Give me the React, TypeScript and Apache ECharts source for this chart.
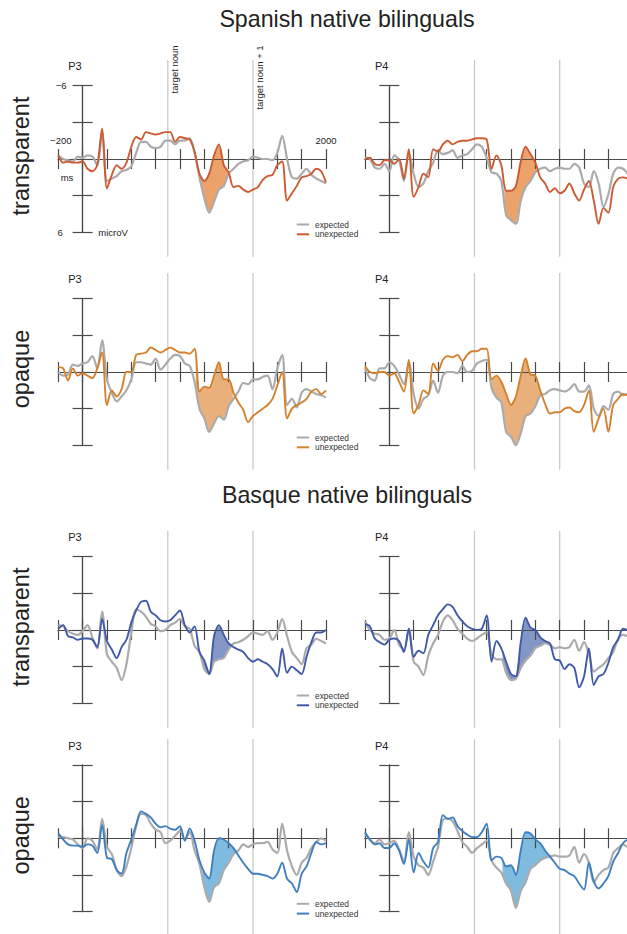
import React, { useEffect, useRef } from 'react';
import * as echarts from 'echarts';

// ---------- data ----------
const TIMES = [-200, -160, -120, -80, -40, 0, 40, 80, 120, 160, 200, 240, 280, 320, 360, 400, 440, 480, 520, 560, 600, 640, 680, 720, 760, 800, 840, 880, 920, 960, 1000, 1040, 1080, 1120, 1160, 1200, 1240, 1280, 1320, 1360, 1400, 1440, 1480, 1520, 1560, 1600, 1640, 1680, 1720, 1760, 1800, 1840, 1880, 1920, 1960, 2000];

// Spanish native bilinguals, transparent
const ST_P3_EXP = [-0.3, 0, 0.1, 0.2, -0.2, -0.1, -0.3, -0.2, 0.5, -2.2, 1.8, 1.6, 1.4, 1.0, 0.9, 0.6, -0.5, -1.4, -1.4, -1.0, -0.9, -1.0, -1.5, -1.5, -1.2, -1.5, -1.5, -1.7, -0.5, 1.5, 3.2, 4.4, 3.5, 2.5, 2.2, 1.2, 0.8, 0.4, 0.2, 0.1, -0.2, -0.1, 0, 0, 0.1, -0.5, -1.9, 0, 1.5, 1.6, 1.2, 0.8, 1.3, 1.6, 1.8, 2.0];
const ST_P3_UNEXP = [-0.3, 0.3, 0.2, 0.3, 0.3, 0.2, 0.8, 1.0, 0.5, -2.5, 2.4, 1.3, 0.5, 0.8, 0.3, -1.0, -1.8, -1.6, -2.2, -2.1, -2.0, -2.1, -2.2, -2.2, -1.4, -1.8, -1.7, -1.6, -0.6, 1.2, 1.8, 1.2, -0.3, -1.2, 0.5, 1.1, 2.3, 2.2, 2.5, 2.7, 2.5, 2.3, 1.7, 1.4, 1.3, 0.5, 0.2, 3.4, 2.8, 2.2, 1.5, 1.4, 1.2, 0.8, 1.0, 1.9];
const ST_P4_EXP = [-0.1, 0, 0.7, 0.8, 0.4, 1.0, -0.3, 0.1, 1.8, -0.5, 1.2, 2.3, 2.0, 1.0, 0.3, -0.7, -0.4, -0.5, -0.7, -0.1, -0.3, -0.4, -0.8, -1.2, -1.0, -0.1, 1.1, 1.2, 1.8, 4.6, 5.0, 5.3, 3.4, 2.3, 1.8, 1.1, 0.8, 0.7, 1.0, 0.8, 0.7, 0.8, 0.8, 0.4, 0.7, 2.0, 2.3, 1.0, 2.0, 3.9, 2.9, 1.2, 0.7, 0.8, 1.2, 1.5];
const ST_P4_UNEXP = [0, -0.1, 0.4, 0.5, 0.1, 0.1, 0.4, 0, 1.6, -0.8, 3.1, 2.3, 1.2, 1.5, -0.8, -0.6, -1.2, -1.5, -1.2, -1.4, -1.5, -1.5, -1.6, -1.7, -1.7, -1.6, 0.8, -0.3, 0.5, 2.6, 2.6, 2.2, 0.2, -1.0, -0.4, 0.3, 1.5, 2.0, 2.7, 2.4, 2.8, 2.6, 2.0, 2.8, 3.4, 2.5, 1.8, 3.4, 5.3, 4.0, 4.4, 2.3, 1.6, 1.5, 1.6, 1.8];

// Spanish native bilinguals, opaque
const SO_P3_EXP = [0, 0.3, 0.2, -0.6, -0.5, -0.7, -0.8, -1.3, -0.3, -2.6, 0.6, 1.7, 2.4, 2.0, 1.5, 0.6, -0.8, -0.8, -0.7, -0.6, -1.1, -0.2, -0.6, -1.1, -1.4, -1.3, -0.7, -0.5, 0.8, 3.0, 3.8, 4.9, 4.2, 3.6, 3.9, 2.8, 2.2, 1.6, 0.9, 1.0, 0.6, 0.6, 0.4, 0.3, 1.4, -0.3, -1.4, 2.7, 2.2, 2.9, 1.7, 1.4, 1.6, 1.8, 1.9, 2.1];
const SO_P3_UNEXP = [-0.4, -0.3, 0.7, -0.3, 0.3, 0.1, 0.3, 0.5, -0.3, -1.6, 2.7, 1.5, 2.0, 1.4, 0, 0, -1.4, -1.5, -1.6, -2.0, -1.8, -1.6, -1.8, -2.0, -1.8, -1.6, -1.6, -1.5, -1.9, 1.6, 1.2, 1.3, 0.3, -0.8, 0.6, 0.6, 1.7, 2.5, 3.1, 4.1, 3.6, 3.3, 3.0, 2.7, 2.2, 1.1, 0, 3.8, 3.0, 2.7, 2.5, 2.2, 1.6, 1.4, 1.8, 1.5];
const SO_P4_EXP = [-0.3, 0.5, 0.7, -0.3, -0.3, -0.8, -0.5, 0.2, 1.0, -0.8, 1.8, 3.0, 2.2, 1.9, 0.7, 1.7, 0.3, 0, 0, 0.1, -0.5, 0, -0.1, -0.7, -0.9, -1.0, 1.3, 2.1, 2.5, 4.9, 5.3, 6.0, 5.0, 3.6, 3.4, 2.8, 1.9, 1.8, 1.5, 1.4, 1.5, 1.6, 1.4, 1.0, 1.6, 1.6, 1.1, 3.0, 3.6, 2.8, 3.1, 1.8, 1.6, 1.9, 1.8, 1.9];
const SO_P4_UNEXP = [-0.5, 0, 0.1, 0, 0, 0.3, 0.1, 0.8, 1.6, -1.0, 3.4, 2.7, 1.5, 1.8, -0.7, -0.1, -1.0, -1.3, -1.2, -1.4, -0.9, -1.4, -1.7, -1.7, -1.9, -1.9, 0.6, 0.3, 0.8, 1.8, 2.7, 2.0, 0.3, -1.1, 0.2, 0.3, 1.5, 2.6, 3.4, 3.3, 3.3, 3.0, 2.9, 3.2, 3.3, 2.7, 1.5, 4.9, 3.8, 3.0, 4.9, 2.7, 2.2, 1.8, 1.9, 1.8];

// Basque native bilinguals, transparent
const BT_P3_EXP = [-0.4, -0.3, 0.1, 0.3, 0.4, 0.1, -0.4, 0.6, 1.5, -1.5, 2.0, 2.6, 3.1, 4.1, 2.8, 0.2, -1.7, -1.5, -1.1, -0.5, -0.3, 0.1, 0, -0.4, -0.6, -0.9, -0.3, -0.1, 1.3, 1.8, 3.2, 3.6, 2.6, 2.4, 2.3, 1.6, 1.1, 1.0, 0.8, 0.5, 0.2, 0.3, 0.4, 0.1, 0.8, 0.2, -0.9, 0.5, 1.8, 2.3, 2.8, 1.5, 1.2, 0.7, 0.9, 1.1];
const BT_P3_UNEXP = [-0.1, -0.4, 0.5, 0.6, 0.8, 0.7, 0.7, 0.8, 1.4, -0.9, 0.9, 1.6, 2.3, 1.4, 0.8, -0.6, -1.6, -2.3, -2.4, -1.5, -1.2, -0.8, -0.7, -0.8, -1.2, -1.6, -0.4, 0.2, -0.3, 1.8, 2.5, 3.6, 0.5, -0.4, 0.4, 1.1, 1.4, 1.6, 1.8, 2.3, 2.6, 2.4, 2.6, 2.8, 3.2, 3.8, 1.5, 3.5, 3.0, 3.3, 3.6, 2.2, 1.0, 0.2, 0.2, 0];
const BT_P4_EXP = [-0.7, 0, 0.3, 0.4, 0.8, 0.7, 0, 1.2, 1.6, -0.1, 2.6, 3.0, 3.7, 2.1, 1.1, 0.4, -0.7, -1.2, -0.8, -0.1, 0.3, 0.7, 0.9, 0.7, 0.4, 0.2, 2.0, 2.4, 2.4, 3.5, 4.1, 4.0, 3.1, 2.5, 2.1, 1.5, 1.3, 1.1, 1.2, 1.5, 1.4, 1.5, 1.4, 0.8, 1.7, 1.0, 2.0, 3.4, 3.1, 2.8, 2.3, 1.8, 0.7, 0.4, 0.5, 0.6];
const BT_P4_UNEXP = [-0.5, -0.3, 0.7, 1.0, 1.2, 0.8, 0.7, 0.9, 1.8, -0.1, 2.2, 1.7, 1.9, 0.4, -0.4, -1.2, -1.7, -2.1, -1.9, -1.2, -0.7, -0.3, -0.1, 0, -0.1, -1.2, 2.6, 0.9, 1.5, 2.6, 3.6, 3.8, 1.0, -1.0, -0.2, 0, 0.6, 0.9, 1.1, 2.4, 2.5, 3.2, 2.8, 3.1, 4.7, 3.8, 1.5, 4.5, 3.8, 3.6, 2.7, 1.4, 0.8, -0.1, 0, 0.1];

// Basque native bilinguals, opaque
const BO_P3_EXP = [-0.1, -0.1, 0, 0.1, 0.5, 0.8, 0, 0.2, 0.9, -1.6, 0.7, 1.3, 2.6, 3.1, 2.3, 0.8, -1.0, -2.0, -1.9, -1.2, -0.7, -0.5, 0.4, 0.2, -0.2, -0.6, 0.1, -0.5, 1.0, 2.1, 4.0, 5.2, 4.0, 3.7, 2.6, 2.0, 1.3, 1.0, 0.5, 0.7, 0.5, 0.4, 0.4, 0.3, 0.9, 1.2, -1.2, 1.0, 2.3, 3.0, 2.0, 1.6, 0.8, 0.3, 0, 0.2];
const BO_P3_UNEXP = [-0.4, 0.1, 0.5, 0.6, 0.6, 0.7, 0.5, 0.6, 1.2, -1.1, 1.6, 1.7, 2.6, 2.9, 1.2, 0.1, -1.1, -2.2, -2.0, -1.7, -1.2, -0.9, -1.0, -0.8, -0.7, -1.0, 0.2, -0.8, 0.2, 1.8, 2.8, 3.3, 1.0, 0, 0.1, 0.4, 0.8, 1.4, 2.0, 2.5, 2.9, 2.9, 3.0, 3.1, 3.3, 2.9, 2.0, 3.3, 3.7, 4.4, 2.9, 2.3, 1.2, 0.3, 0.5, 0.4];
const BO_P4_EXP = [-0.4, 0.1, 0.4, 0.1, 0.5, 0.4, 0.2, 0.9, 1.9, -0.5, 1.5, 2.2, 2.4, 3.0, 1.9, 0.7, -1.5, -1.6, -1.4, -0.6, 0.3, 0.7, 1.2, 0.8, 0.5, 0.2, 1.8, 2.4, 2.8, 3.7, 4.3, 5.7, 4.3, 3.6, 2.5, 2.2, 1.8, 1.6, 1.5, 1.4, 1.5, 1.5, 1.4, 0.7, 2.0, 1.3, 2.0, 3.6, 3.0, 2.6, 2.4, 1.2, 0.8, 0.5, 0.7, 0.7];
const BO_P4_UNEXP = [-0.5, 0.1, 0.5, 0.4, 0.8, 0.8, 0.4, 1.0, 2.1, 0.1, 2.8, 1.2, 1.9, 2.4, 0.8, 0.3, -1.9, -1.6, -1.7, -1.0, -0.6, -0.3, -0.1, -0.1, -0.5, -1.2, 1.8, 1.5, 1.6, 2.3, 2.2, 3.0, 1.0, -0.5, -0.4, 0.1, 0.4, 1.0, 1.5, 2.0, 2.5, 2.6, 2.9, 3.1, 3.7, 4.2, 2.0, 3.5, 4.1, 3.7, 3.1, 1.9, 1.2, 0.4, 0.1, 0];

// shaded time windows (ms)
const WIN_ST_P3 = [920, 1205];
const WIN_ST_P4 = [945, 1205];
const WIN_SO_P3 = [930, 1235];
const WIN_SO_P4 = [840, 1260];
const WIN_BT_P3 = [990, 1225];
const WIN_BT_P4 = [930, 1330];
const WIN_BO_P3 = [985, 1265];
const WIN_BO_P4 = [930, 1320];

const GUIDE_TIMES = [700, 1400];
const GUIDE_LABELS = ['target noun', 'target noun + 1'];
const GROUP_TITLES = ['Spanish native bilinguals', 'Basque native bilinguals'];
const CONDITIONS = ['transparent', 'opaque', 'transparent', 'opaque'];
const ELECTRODES = ['P3', 'P4'];
const LEGEND_NAMES = ['expected', 'unexpected'];
const AXIS_NAMES = ['ms', 'microV'];
const X_RANGE = [-200, 2000];
const Y_RANGE = [-6, 6];
const X_STEP = 200;
const Y_STEP = 3;

// ---------- styles / layout ----------
const FONT_FAMILY = '"Liberation Sans", Arial, Helvetica, sans-serif';
const font = (s: number) => `${s}px ${FONT_FAMILY}`;
const GRAY = '#ababab';
const AXIS_COLOR = '#4a4a4a';
const GUIDE_COLOR = '#cacaca';
const TEXT_COLOR = '#222222';
const ROW_COLORS = [
  { line: '#cc5a32', fill: '#eda26c' },
  { line: '#d4812e', fill: '#e9b07c' },
  { line: '#4059a8', fill: '#8397c6' },
  { line: '#3e7fc1', fill: '#7fbbdf' },
];

const W = 627;
const H = 934;
const COL_LEFT = [58.3, 365];
const GRID_W = 267.7;
const ROW_TOP = [85.7, 298.7, 556.7, 765];
const GRID_H = 146.6;
const pxPerMs = GRID_W / (X_RANGE[1] - X_RANGE[0]);
const zeroX = (col: number) => COL_LEFT[col] + (0 - X_RANGE[0]) * pxPerMs;
const zeroY = (row: number) => ROW_TOP[row] + GRID_H / 2;

const PANELS = [
  { row: 0, col: 0, exp: ST_P3_EXP, unexp: ST_P3_UNEXP, win: WIN_ST_P3 },
  { row: 0, col: 1, exp: ST_P4_EXP, unexp: ST_P4_UNEXP, win: WIN_ST_P4 },
  { row: 1, col: 0, exp: SO_P3_EXP, unexp: SO_P3_UNEXP, win: WIN_SO_P3 },
  { row: 1, col: 1, exp: SO_P4_EXP, unexp: SO_P4_UNEXP, win: WIN_SO_P4 },
  { row: 2, col: 0, exp: BT_P3_EXP, unexp: BT_P3_UNEXP, win: WIN_BT_P3 },
  { row: 2, col: 1, exp: BT_P4_EXP, unexp: BT_P4_UNEXP, win: WIN_BT_P4 },
  { row: 3, col: 0, exp: BO_P3_EXP, unexp: BO_P3_UNEXP, win: WIN_BO_P3 },
  { row: 3, col: 1, exp: BO_P4_EXP, unexp: BO_P4_UNEXP, win: WIN_BO_P4 },
];

const fmtNum = (v: number) => (v < 0 ? '\u2212' + Math.abs(v) : String(v));

function interp(vs: number[], t: number) {
  for (let k = 0; k < TIMES.length - 1; k++) {
    if (t >= TIMES[k] && t <= TIMES[k + 1]) {
      const f = (t - TIMES[k]) / (TIMES[k + 1] - TIMES[k]);
      return vs[k] + f * (vs[k + 1] - vs[k]);
    }
  }
  return vs[vs.length - 1];
}

function fillPolygon(exp: number[], unexp: number[], win: number[]) {
  const inner = TIMES.filter((t) => t > win[0] && t < win[1]);
  const ts = [win[0], ...inner, win[1]];
  const top = ts.map((t) => [t, interp(exp, t)]);
  const bottom = ts.map((t) => [t, interp(unexp, t)]).reverse();
  return [...top, ...bottom];
}

function textEl(x: number, y: number, text: string, size: number, align: string, vAlign: string, rotation = 0, color = TEXT_COLOR) {
  return {
    type: 'text',
    x,
    y,
    rotation,
    silent: true,
    style: {
      text,
      font: font(size),
      fill: color,
      textAlign: align,
      textVerticalAlign: vAlign,
      align,
      verticalAlign: vAlign,
    },
  };
}

function buildOption() {
  const grids: any[] = [];
  const xAxes: any[] = [];
  const yAxes: any[] = [];
  const series: any[] = [];
  const axisLine = { onZero: true, lineStyle: { color: AXIS_COLOR, width: 1.2 } };
  const axisTick = { show: true, length: 10, inside: false, lineStyle: { color: AXIS_COLOR, width: 1.2 } };

  PANELS.forEach((p, i) => {
    const first = i === 0;
    const colors = ROW_COLORS[p.row];
    grids.push({
      left: COL_LEFT[p.col],
      top: ROW_TOP[p.row],
      width: GRID_W,
      height: GRID_H,
      containLabel: false,
      outerBoundsMode: 'none',
    });
    const xBase = {
      gridIndex: i,
      type: 'value',
      min: X_RANGE[0],
      max: X_RANGE[1],
      interval: X_STEP,
      axisLine,
      axisTick,
      axisLabel: { show: false },
      splitLine: { show: false },
      z: 2,
    };
    xAxes.push({ ...xBase, position: 'bottom' });
    xAxes.push({ ...xBase, position: 'top' });
    const yBase = {
      gridIndex: i,
      type: 'value',
      min: Y_RANGE[0],
      max: Y_RANGE[1],
      interval: Y_STEP,
      inverse: true,
      axisLine,
      axisTick,
      axisLabel: { show: false },
      splitLine: { show: false },
      z: 2,
    };
    yAxes.push({ ...yBase, position: 'left' });
    yAxes.push({ ...yBase, position: 'right' });

    const xi = i * 2;
    const yi = i * 2;

    // vertical guide lines (+ axis annotations in the first panel)
    series.push({
      type: 'custom',
      xAxisIndex: xi,
      yAxisIndex: yi,
      silent: true,
      clip: false,
      z: 0,
      data: [[0, 0]],
      renderItem: (params: any, api: any) => {
        const children: any[] = [];
        GUIDE_TIMES.forEach((t, k) => {
          const a = api.coord([t, -8.1]);
          const b = api.coord([t, 8.0]);
          children.push({
            type: 'line',
            shape: { x1: a[0], y1: a[1], x2: b[0], y2: b[1] },
            style: { stroke: GUIDE_COLOR, lineWidth: 1.3 },
          });
          if (first) {
            const c = api.coord([t, -9.3]);
            children.push(textEl(c[0] + 1.2, c[1], GUIDE_LABELS[k], 9.5, 'right', 'top', Math.PI / 2));
          }
        });
        if (first) {
          const xl = api.coord([X_RANGE[0], 0]);
          const xr = api.coord([X_RANGE[1], 0]);
          children.push(textEl(xl[0] + 2.5, xl[1] - 18.5, fmtNum(X_RANGE[0]), 9.5, 'center', 'middle'));
          children.push(textEl(xr[0], xr[1] - 18.5, fmtNum(X_RANGE[1]), 9.5, 'center', 'middle'));
          const yt = api.coord([0, Y_RANGE[0]]);
          const yb = api.coord([0, Y_RANGE[1]]);
          children.push(textEl(yt[0] - 21.5, yt[1], fmtNum(Y_RANGE[0]), 9.5, 'center', 'middle'));
          children.push(textEl(yb[0] - 22.5, yb[1], fmtNum(Y_RANGE[1]), 9.5, 'center', 'middle'));
          children.push(textEl(xl[0] + 2.4, xl[1] + 18.4, AXIS_NAMES[0], 9.5, 'left', 'middle'));
          children.push(textEl(yb[0] + 15.6, yb[1], AXIS_NAMES[1], 9.5, 'left', 'middle'));
        }
        return { type: 'group', children };
      },
    });

    // shaded difference
    const poly = fillPolygon(p.exp, p.unexp, p.win);
    series.push({
      type: 'custom',
      xAxisIndex: xi,
      yAxisIndex: yi,
      silent: true,
      clip: false,
      z: 1,
      data: [[p.win[0], 0]],
      renderItem: (params: any, api: any) => ({
        type: 'polygon',
        shape: { points: poly.map((pt) => api.coord(pt)) },
        style: { fill: colors.fill, stroke: 'none' },
      }),
    });

    series.push({
      type: 'line',
      name: LEGEND_NAMES[0],
      xAxisIndex: xi,
      yAxisIndex: yi,
      data: TIMES.map((t, k) => [t, p.exp[k]]),
      showSymbol: false,
      symbol: 'none',
      smooth: 0.3,
      lineStyle: { color: GRAY, width: 2.2 },
      z: 3,
      silent: true,
    });
    series.push({
      type: 'line',
      name: LEGEND_NAMES[1],
      xAxisIndex: xi,
      yAxisIndex: yi,
      data: TIMES.map((t, k) => [t, p.unexp[k]]),
      showSymbol: false,
      symbol: 'none',
      smooth: 0.3,
      lineStyle: { color: colors.line, width: 1.9 },
      z: 4,
      silent: true,
    });
  });

  // free texts
  const graphics: any[] = [];
  graphics.push(textEl(347, 18.5, GROUP_TITLES[0], 23.2, 'center', 'middle'));
  graphics.push(textEl(347, 494.5, GROUP_TITLES[1], 23.2, 'center', 'middle'));
  CONDITIONS.forEach((c, r) => {
    graphics.push(textEl(21, zeroY(r) - 3, c, 23.5, 'center', 'middle', Math.PI / 2));
    ELECTRODES.forEach((e, col) => {
      graphics.push(textEl(zeroX(col) - 14.4, ROW_TOP[r] - 19.5, e, 11, 'left', 'middle'));
    });
    // legend
    const lx = COL_LEFT[0] + 238.5;
    const ly = zeroY(r) + 65.5;
    [GRAY, ROW_COLORS[r].line].forEach((col, k) => {
      const y = ly + k * 9.8;
      graphics.push({
        type: 'line',
        silent: true,
        shape: { x1: lx, y1: y, x2: lx + 12.3, y2: y },
        style: { stroke: col, lineWidth: 2 },
      });
      graphics.push(textEl(lx + 18.2, y, LEGEND_NAMES[k], 8.4, 'left', 'middle', 0, '#333'));
    });
  });

  return {
    animation: false,
    backgroundColor: '#ffffff',
    textStyle: { fontFamily: FONT_FAMILY },
    grid: grids,
    xAxis: xAxes,
    yAxis: yAxes,
    series,
    graphic: { elements: graphics },
  };
}

export default function App() {
  const ref = useRef<HTMLDivElement>(null);
  useEffect(() => {
    if (!ref.current) return;
    const chart = echarts.init(ref.current, undefined, { renderer: 'svg' });
    chart.setOption(buildOption() as any);
    return () => chart.dispose();
  }, []);
  return <div ref={ref} style={{ position: 'absolute', left: 0, top: 0, width: W, height: H }} />;
}
